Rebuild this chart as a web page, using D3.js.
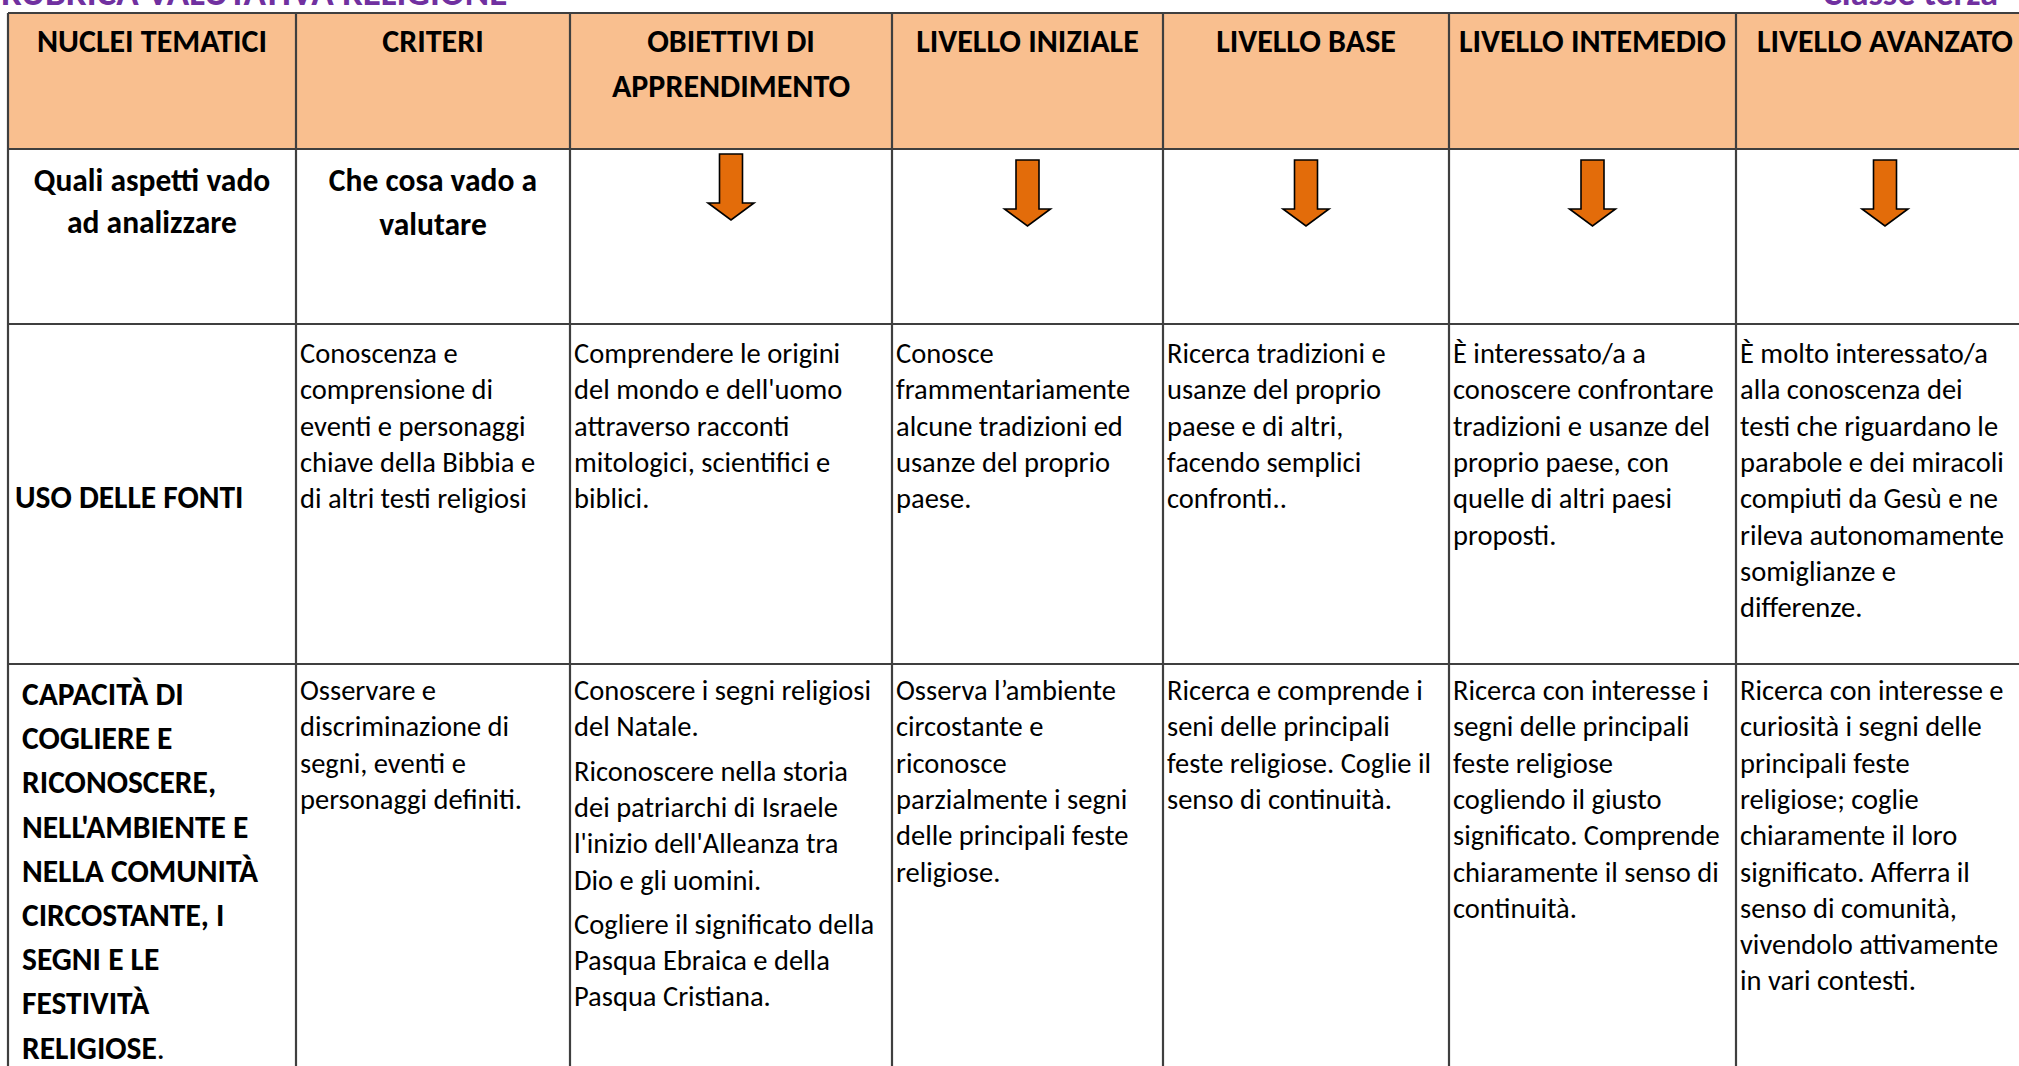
<!DOCTYPE html>
<html>
<head>
<meta charset="utf-8">
<script src="https://cdn.jsdelivr.net/npm/d3@7"></script>
<style>
  html, body { margin: 0; padding: 0; background: #ffffff; overflow: hidden; }
  svg { display: block; }
</style>
</head>
<body>
<svg id="chart" width="2019" height="1066"></svg>
<script>
// ---------- DATA ----------
const titleLeft = "RUBRICA VALUTATIVA RELIGIONE";
const titleRight = "Classe terza";

const columnKeys = ["nuclei", "criteri", "obiettivi", "iniziale", "base", "intermedio", "avanzato"];
const headerLabels = [
  ["NUCLEI TEMATICI"],
  ["CRITERI"],
  ["OBIETTIVI DI", "APPRENDIMENTO"],
  ["LIVELLO INIZIALE"],
  ["LIVELLO BASE"],
  ["LIVELLO INTEMEDIO"],
  ["LIVELLO AVANZATO"]
];

const questionRow = [
  ["Quali aspetti vado", "ad analizzare"],
  ["Che cosa vado a", "valutare"]
];
const arrowColumns = ["obiettivi", "iniziale", "base", "intermedio", "avanzato"];

const rowKeys = ["header", "domande", "fonti", "segni", "end"];

const fontiLabel = ["USO DELLE FONTI"];
const fontiCells = [
  [["Conoscenza e", "comprensione di", "eventi e personaggi", "chiave della Bibbia e", "di altri testi religiosi"]],
  [["Comprendere le origini", "del mondo e dell'uomo", "attraverso racconti", "mitologici, scientifici e", "biblici."]],
  [["Conosce", "frammentariamente", "alcune tradizioni ed", "usanze del proprio", "paese."]],
  [["Ricerca tradizioni e", "usanze del proprio", "paese e di altri,", "facendo semplici", "confronti.."]],
  [["È interessato/a  a", "conoscere confrontare", "tradizioni e usanze del", "proprio paese, con", "quelle di altri paesi", "proposti."]],
  [["È molto interessato/a", "alla conoscenza dei", "testi che riguardano le", "parabole e dei miracoli", "compiuti da Gesù e ne", "rileva autonomamente", "somiglianze e", "differenze."]]
];

const segniLabel = ["CAPACITÀ DI", "COGLIERE E", "RICONOSCERE,", "NELL'AMBIENTE E", "NELLA COMUNITÀ", "CIRCOSTANTE, I", "SEGNI E LE", "FESTIVITÀ", "RELIGIOSE"];
const segniCells = [
  [["Osservare e", "discriminazione di", "segni, eventi e", "personaggi definiti."]],
  [["Conoscere i segni religiosi", "del Natale."],
   ["Riconoscere nella storia", "dei patriarchi di Israele", "l'inizio dell'Alleanza tra", "Dio e gli uomini."],
   ["Cogliere il significato della", "Pasqua Ebraica e della", "Pasqua Cristiana."]],
  [["Osserva l’ambiente", "circostante e", "riconosce", "parzialmente i segni", "delle principali feste", "religiose."]],
  [["Ricerca e comprende i", "seni delle principali", "feste religiose. Coglie il", "senso di continuità."]],
  [["Ricerca con interesse i", "segni delle principali", "feste religiose", "cogliendo il giusto", "significato. Comprende", "chiaramente il senso di", "continuità."]],
  [["Ricerca con interesse e", "curiosità i segni delle", "principali feste", "religiose; coglie", "chiaramente il loro", "significato. Afferra  il", "senso di comunità,", "vivendolo attivamente", "in vari contesti."]]
];

// ---------- LAYOUT ----------
const colEdges = [8, 296, 570, 892, 1163, 1449, 1736, 2034];
const rowEdges = [13, 149, 324, 664, 1120];
const FONT = "Carlito, Calibri, Lato, 'Open Sans', sans-serif";
const headerFill = "#F9BF8F";
const borderColor = "#3f3f3f";
const arrowFill = "#E36C0A";
const purple = "#7030A0";

const svg = d3.select("#chart");

const xLeft = d3.scaleOrdinal().domain(columnKeys).range(colEdges.slice(0, 7));
const xRight = d3.scaleOrdinal().domain(columnKeys).range(colEdges.slice(1));
const yTop = d3.scaleOrdinal().domain(rowKeys).range(rowEdges);
const xCenter = k => (xLeft(k) + xRight(k)) / 2;

// title (cut off at top, as in the reference)
svg.append("text").attr("x", 1).attr("y", 5)
  .attr("font-family", FONT).attr("font-weight", 700).attr("font-size", 37)
  .attr("fill", purple).text(titleLeft);
svg.append("text").attr("x", 1998).attr("y", 5).attr("text-anchor", "end")
  .attr("font-family", FONT).attr("font-weight", 700).attr("font-size", 36)
  .attr("fill", purple).text(titleRight);

// header background
svg.append("g").selectAll("rect").data(columnKeys).join("rect")
  .attr("x", d => xLeft(d)).attr("y", yTop("header"))
  .attr("width", d => xRight(d) - xLeft(d))
  .attr("height", yTop("domande") - yTop("header"))
  .attr("fill", headerFill);

// fit helper
function fit(sel, maxW) {
  sel.each(function () {
    const w = this.getComputedTextLength();
    if (w > maxW) {
      d3.select(this).attr("textLength", maxW).attr("lengthAdjust", "spacingAndGlyphs");
    }
  });
}

// header texts
const hdr = svg.append("g").attr("font-family", FONT).attr("font-weight", 700)
  .attr("font-size", 32).attr("fill", "#000");
columnKeys.forEach((k, i) => {
  hdr.selectAll(null).data(headerLabels[i]).join("text")
    .attr("x", xCenter(k)).attr("y", (d, j) => yTop("header") + 39 + j * 45)
    .attr("text-anchor", "middle").text(d => d)
    .call(fit, xRight(k) - xLeft(k) - 6);
});

// question row
const q = svg.append("g").attr("font-family", FONT).attr("font-weight", 700)
  .attr("font-size", 31.5).attr("fill", "#000");
["nuclei", "criteri"].forEach((k, i) => {
  q.selectAll(null).data(questionRow[i]).join("text")
    .attr("x", xCenter(k))
    .attr("y", (d, j) => yTop("domande") + 42 + j * (i === 0 ? 41.5 : 44))
    .attr("text-anchor", "middle").text(d => d);
});

// arrows
const arrowPath = (cx, top) => {
  const sw = 11.5, hw = 23, len = 66, head = 17;
  return `M${cx - sw},${top} L${cx + sw},${top} L${cx + sw},${top + len - head} L${cx + hw},${top + len - head} L${cx},${top + len} L${cx - hw},${top + len - head} L${cx - sw},${top + len - head} Z`;
};
svg.append("g").selectAll("path").data(arrowColumns).join("path")
  .attr("d", (d, i) => arrowPath(xCenter(d), yTop("domande") + (i === 0 ? 5 : 11)))
  .attr("fill", arrowFill).attr("stroke", "#000").attr("stroke-width", 1.6)
  .attr("stroke-linejoin", "miter");

// body cells
const BODY = 28.5, STEP = 36.3, PGAP = 8;
function drawCell(g, k, paragraphs, top) {
  const flat = [];
  let y = top;
  paragraphs.forEach((p, pi) => {
    if (pi > 0) y += PGAP;
    p.forEach(line => { flat.push({ line, y }); y += STEP; });
  });
  g.selectAll(null).data(flat).join("text")
    .attr("x", xLeft(k) + 4).attr("y", d => d.y).text(d => d.line)
    .call(fit, xRight(k) - xLeft(k) - 6);
}
const body = svg.append("g").attr("font-family", FONT).attr("font-size", BODY).attr("fill", "#000");
columnKeys.slice(1).forEach((k, i) => {
  drawCell(body, k, fontiCells[i], yTop("fonti") + 39);
  drawCell(body, k, segniCells[i], yTop("segni") + 36);
});

// row labels
const lab = svg.append("g").attr("font-family", FONT).attr("font-weight", 700)
  .attr("font-size", 31.5).attr("fill", "#000");
lab.selectAll(null).data(fontiLabel).join("text")
  .attr("x", xLeft("nuclei") + 7).attr("y", yTop("fonti") + 184).text(d => d);
const segT = lab.selectAll(null).data(segniLabel).join("text")
  .attr("x", xLeft("nuclei") + 14).attr("y", (d, j) => yTop("segni") + 41 + j * 44.2)
  .text(d => d);
segT.filter((d, j) => j === segniLabel.length - 1)
  .append("tspan").attr("font-weight", 400).text(".");

// grid lines
const grid = svg.append("g").attr("stroke", borderColor).attr("stroke-width", 2.2);
grid.selectAll("line.h").data(rowKeys.slice(0, 4)).join("line").attr("class", "h")
  .attr("x1", colEdges[0]).attr("x2", colEdges[colEdges.length - 1])
  .attr("y1", d => yTop(d)).attr("y2", d => yTop(d));
grid.selectAll("line.v").data(columnKeys).join("line").attr("class", "v")
  .attr("x1", d => xLeft(d)).attr("x2", d => xLeft(d))
  .attr("y1", rowEdges[0]).attr("y2", 1066);
</script>
</body>
</html>
